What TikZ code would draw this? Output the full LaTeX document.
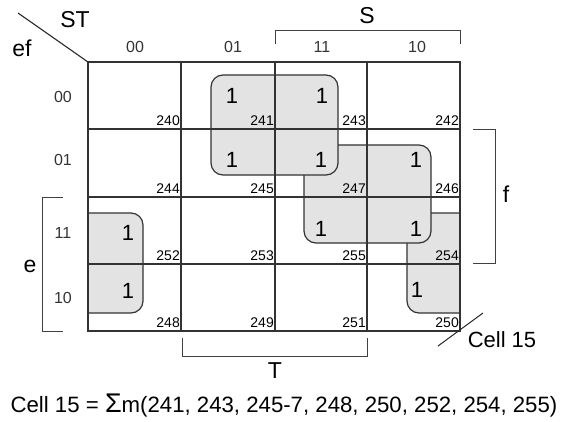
\documentclass[tikz,border=0pt]{standalone}
\usepackage{fontspec}
\setmainfont{Liberation Sans}
\begin{document}
\begin{tikzpicture}[x=1pt,y=-1pt,
  grp/.style={fill=gray!22, draw=black!80, line width=1.2pt, rounded corners=12pt},
  gridline/.style={draw=black!80, line width=1.2pt},
  brk/.style={draw=black!75, line width=0.9pt},
  cellnum/.style={font=\fontsize{14}{14}\selectfont, anchor=south east, inner sep=0pt},
  one/.style={font=\fontsize{22}{22}\selectfont, inner sep=0pt},
  lbl/.style={font=\fontsize{16}{16}\selectfont, inner sep=0pt, text=black!80},
  big/.style={font=\fontsize{23}{23}\selectfont, inner sep=0pt},
  txt/.style={font=\fontsize{22}{22}\selectfont, inner sep=0pt}
]
\useasboundingbox (0,0) rectangle (569,422);
% groups (lowest first)
\begin{scope}
  \clip (0,0) rectangle (460,422);
  \draw[grp] (407,213) rectangle (495,313);
\end{scope}
\begin{scope}
  \clip (88,0) rectangle (569,422);
  \draw[grp] (53,213) rectangle (143,313);
\end{scope}
\draw[grp] (304,145) rectangle (431,243);
\draw[grp] (211,75) rectangle (338,175);
% grid
\draw[gridline] (88,62) rectangle (460,331);
\foreach \x in {181,275,367} \draw[gridline] (\x,62) -- (\x,331);
\foreach \y in {129,197,264} \draw[gridline] (88,\y) -- (460,\y);
% corner diagonal
\coordinate (dA) at (18,13);
\coordinate (dB) at (88,62);
\draw[line width=1.1pt, draw=black!85] (dA) -- (dB);
\node[big] (ST) at (75,20) {ST};
\node[big] (ef) at (22,48.5) {ef};
% column labels
\node[lbl] (c00) at (135,47) {00};
\node[lbl] (c01) at (233,47) {01};
\node[lbl] (c11) at (322,47) {11};
\node[lbl] (c10) at (417,47) {10};
% row labels
\node[lbl] (r00) at (63,97) {00};
\node[lbl] (r01) at (63,160) {01};
\node[lbl] (r11) at (63,233) {11};
\node[lbl] (r10) at (63,298) {10};
% cell numbers
\node[cellnum] (n240) at (180,126) {240};
\node[cellnum] (n241) at (274,126) {241};
\node[cellnum] (n243) at (366,126) {243};
\node[cellnum] (n242) at (459,126) {242};
\node[cellnum] (n244) at (180,194) {244};
\node[cellnum] (n245) at (274,194) {245};
\node[cellnum] (n247) at (366,194) {247};
\node[cellnum] (n246) at (459,194) {246};
\node[cellnum] (n252) at (180,261) {252};
\node[cellnum] (n253) at (274,261) {253};
\node[cellnum] (n255) at (366,261) {255};
\node[cellnum] (n254) at (459,261) {254};
\node[cellnum] (n248) at (180,328) {248};
\node[cellnum] (n249) at (274,328) {249};
\node[cellnum] (n251) at (366,328) {251};
\node[cellnum] (n250) at (459,328) {250};
% ones
\node[one] (o241) at (232,96) {1};
\node[one] (o243) at (322,96) {1};
\node[one] (o245) at (232,160) {1};
\node[one] (o247) at (321,160) {1};
\node[one] (o246) at (416,160) {1};
\node[one] (o255) at (321,229) {1};
\node[one] (o254) at (416,229) {1};
\node[one] (o252) at (128,233) {1};
\node[one] (o248) at (128,291) {1};
\node[one] (o250) at (417,290) {1};
% S bracket
\coordinate (s1) at (275,44); \coordinate (s2) at (275,30);
\coordinate (s3) at (460,30); \coordinate (s4) at (460,44);
\draw[brk] (s1) -- (s2) -- (s3) -- (s4);
\node[big] (S) at (367,16) {S};
% f bracket
\coordinate (f1) at (473,129); \coordinate (f2) at (495,129);
\coordinate (f3) at (495,263); \coordinate (f4) at (473,263);
\draw[brk] (f1) -- (f2) -- (f3) -- (f4);
\node[big] (f) at (506,194) {f};
% e bracket
\coordinate (e1) at (63,197); \coordinate (e2) at (42,197);
\coordinate (e3) at (42,331); \coordinate (e4) at (63,331);
\draw[brk] (e1) -- (e2) -- (e3) -- (e4);
\node[big] (e) at (30,266) {e};
% T bracket
\coordinate (t1) at (182,338); \coordinate (t2) at (182,356);
\coordinate (t3) at (367,356); \coordinate (t4) at (367,338);
\draw[brk] (t1) -- (t2) -- (t3) -- (t4);
\node[big] (T) at (275,371) {T};
% Cell 15 pointer
\coordinate (p1) at (438,346);
\coordinate (p2) at (483,313);
\draw[line width=1pt, draw=black!85] (p1) -- (p2);
\node[txt] (cell) at (502,340) {Cell 15};
% formula
\node[txt, font=\fontsize{22.2}{22.2}\selectfont] (formula) at (284,406) {Cell 15 = {\fontsize{27}{27}\selectfont Σ}m(241, 243, 245-7, 248, 250, 252, 254, 255)};
\end{tikzpicture}
\end{document}
